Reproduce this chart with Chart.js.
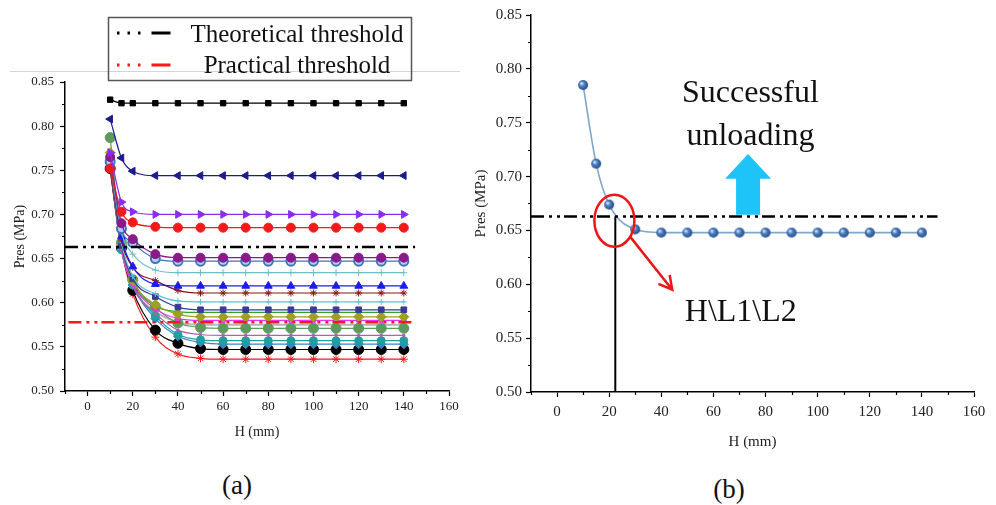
<!DOCTYPE html>
<html lang="en">
<head>
<meta charset="UTF-8">
<title>Pres vs H</title>
<script src="https://cdn.jsdelivr.net/npm/chart.js@4.4.1/dist/chart.umd.min.js"></script>
<style>
    body{margin:0;background:#fff;width:996px;height:505px;position:relative;overflow:hidden;font-family:"Liberation Serif",serif}
    #boxA{position:absolute;left:0;top:0;width:470px;height:460px}
    #boxB{position:absolute;left:462px;top:0;width:534px;height:460px}
    #rule{position:absolute;left:10px;top:71px;width:450px;height:1px;background:#d4d4d4}
    .cap{position:absolute;font-size:27px;color:#111;transform:translate(-50%,-50%)}
</style>
</head>
<body>
<div id="rule"></div>
<div id="boxA"><canvas id="chartA"></canvas></div>
<div id="boxB"><canvas id="chartB"></canvas></div>
<div class="cap" style="left:237px;top:485px">(a)</div>
<div class="cap" style="left:729px;top:489px">(b)</div>
<script>
// ---- values ----
var hA = [10, 15, 20, 30, 40, 50, 60, 70, 80, 90, 100, 110, 120, 130, 140];
var presA01 = [0.830, 0.826, 0.826, 0.826, 0.826, 0.826, 0.826, 0.826, 0.826, 0.826, 0.826, 0.826, 0.826, 0.826, 0.826];
var presA02 = [0.808, 0.764, 0.749, 0.744, 0.744, 0.744, 0.744, 0.744, 0.744, 0.744, 0.744, 0.744, 0.744, 0.744, 0.744];
var presA03 = [0.770, 0.714, 0.703, 0.700, 0.700, 0.700, 0.700, 0.700, 0.700, 0.700, 0.700, 0.700, 0.700, 0.700, 0.700];
var presA04 = [0.752, 0.703, 0.691, 0.686, 0.685, 0.685, 0.685, 0.685, 0.685, 0.685, 0.685, 0.685, 0.685, 0.685, 0.685];
var presA05 = [0.765, 0.690, 0.672, 0.655, 0.651, 0.651, 0.651, 0.651, 0.651, 0.651, 0.651, 0.651, 0.651, 0.651, 0.651];
var presA06 = [0.760, 0.684, 0.668, 0.650, 0.647, 0.647, 0.647, 0.647, 0.647, 0.647, 0.647, 0.647, 0.647, 0.647, 0.647];
var presA07 = [0.758, 0.680, 0.655, 0.637, 0.634, 0.634, 0.634, 0.634, 0.634, 0.634, 0.634, 0.634, 0.634, 0.634, 0.634];
var presA08 = [0.762, 0.675, 0.641, 0.621, 0.619, 0.619, 0.619, 0.619, 0.619, 0.619, 0.619, 0.619, 0.619, 0.619, 0.619];
var presA09 = [0.755, 0.671, 0.640, 0.625, 0.614, 0.611, 0.611, 0.611, 0.611, 0.611, 0.611, 0.611, 0.611, 0.611, 0.611];
var presA10 = [0.760, 0.668, 0.630, 0.610, 0.602, 0.601, 0.601, 0.601, 0.601, 0.601, 0.601, 0.601, 0.601, 0.601, 0.601];
var presA11 = [0.758, 0.665, 0.627, 0.607, 0.595, 0.592, 0.592, 0.592, 0.592, 0.592, 0.592, 0.592, 0.592, 0.592, 0.592];
var presA12 = [0.770, 0.666, 0.625, 0.598, 0.587, 0.584, 0.584, 0.584, 0.584, 0.584, 0.584, 0.584, 0.584, 0.584, 0.584];
var presA13 = [0.765, 0.662, 0.622, 0.593, 0.582, 0.580, 0.580, 0.580, 0.580, 0.580, 0.580, 0.580, 0.580, 0.580, 0.580];
var presA14 = [0.787, 0.668, 0.626, 0.595, 0.577, 0.572, 0.571, 0.571, 0.571, 0.571, 0.571, 0.571, 0.571, 0.571, 0.571];
var presA15 = [0.760, 0.661, 0.618, 0.588, 0.569, 0.564, 0.563, 0.563, 0.563, 0.563, 0.563, 0.563, 0.563, 0.563, 0.563];
var presA16 = [0.755, 0.660, 0.620, 0.585, 0.564, 0.558, 0.557, 0.557, 0.557, 0.557, 0.557, 0.557, 0.557, 0.557, 0.557];
var presA17 = [0.758, 0.660, 0.620, 0.582, 0.562, 0.555, 0.553, 0.553, 0.553, 0.553, 0.553, 0.553, 0.553, 0.553, 0.553];
var presA18 = [0.752, 0.662, 0.614, 0.569, 0.554, 0.548, 0.547, 0.547, 0.547, 0.547, 0.547, 0.547, 0.547, 0.547, 0.547];
var presA19 = [0.750, 0.660, 0.610, 0.561, 0.542, 0.537, 0.536, 0.536, 0.536, 0.536, 0.536, 0.536, 0.536, 0.536, 0.536];
var presA20 = [0.762, 0.664, 0.623, 0.596, 0.590, 0.589, 0.589, 0.589, 0.589, 0.589, 0.589, 0.589, 0.589, 0.589, 0.589];
var presA21 = [0.756, 0.663, 0.619, 0.590, 0.578, 0.575, 0.575, 0.575, 0.575, 0.575, 0.575, 0.575, 0.575, 0.575, 0.575];

var hB = [10, 15, 20, 30, 40, 50, 60, 70, 80, 90, 100, 110, 120, 130, 140];
var presB = [0.785, 0.712, 0.674, 0.651, 0.648, 0.648, 0.648, 0.648, 0.648, 0.648, 0.648, 0.648, 0.648, 0.648, 0.648];

var theoThreshold = 0.663;
var pracThreshold = 0.578;
var theoSpanA = [-10, 145];
var pracSpanA = [-8.5, 145];
var theoSpanB = [-10, 146];
var hCross = 22.35;

var yTickLabels = ['0.50', '0.55', '0.60', '0.65', '0.70', '0.75', '0.80', '0.85'];
var xTickLabels = ['0', '20', '40', '60', '80', '100', '120', '140', '160'];

// annotations of panel (b), in data units
var circleMark = {x: 22.0, y: 0.659};
var redArrow = {x0: 28.1, y0: 0.644, x1: 44.2, y1: 0.595};
var blueArrow = {x: 73.3, tip: 0.721, neck: 0.698, base: 0.6645};
var notesB = [
    {text: 'Successful', x: 74.2, y: 0.7696},
    {text: 'unloading', x: 74.2, y: 0.7294},
    {text: 'H\\L1\\L2', x: 70.5, y: 0.5655}
];

function pts(xs, ys) {
    var out = [];
    for (var i = 0; i < xs.length; i++) out.push({x: xs[i], y: ys[i]});
    return out;
}
function flat(span, v) {
    return [{x: span[0], y: v}, {x: span[1], y: v}];
}

var serif = '"Liberation Serif", "Times New Roman", serif';
var DASH = [13, 5, 3, 5, 3, 4];

function curve(ys, color, style, r, extra) {
    var d = {
        data: pts(hA, ys),
        borderColor: color,
        backgroundColor: color,
        borderWidth: 1.2,
        pointStyle: style,
        pointRadius: r,
        pointBorderWidth: 1,
        pointBorderColor: color,
        cubicInterpolationMode: 'monotone',
        order: 1
    };
    for (var k in extra) d[k] = extra[k];
    return d;
}

function yLabel(v) {
    var s = (Math.round(v * 1000) / 1000).toFixed(2);
    return yTickLabels.indexOf(s) >= 0 && Math.abs(v * 20 - Math.round(v * 20)) < 1e-6 ? s : '';
}
function xLabel(v) {
    var s = String(Math.round(v));
    return xTickLabels.indexOf(s) >= 0 ? s : '';
}
function majorColor(lab) {
    return function (c) {
        return c.tick && lab(c.tick.value) !== '' ? '#000' : 'rgba(0,0,0,0)';
    };
}

function axes(o) {
    return {
        x: {
            type: 'linear', min: -10, max: 160,
            border: {color: '#000', width: 1.5},
            grid: {drawOnChartArea: false, tickLength: 5, tickColor: majorColor(xLabel), tickWidth: 1.2},
            ticks: {stepSize: 10, autoSkip: false, maxRotation: 0, padding: o.xPad, color: '#222',
                font: {family: serif, size: o.tickSize}, callback: xLabel},
            title: {display: true, text: 'H (mm)', color: '#222', font: {family: serif, size: o.titleSize},
                padding: {top: 0, bottom: o.xTitlePad}},
            afterFit: function (s) { s.height = o.xH; }
        },
        y: {
            type: 'linear', min: 0.5, max: 0.85,
            border: {color: '#000', width: 1.5},
            grid: {drawOnChartArea: false, tickLength: o.yTick, tickColor: majorColor(yLabel), tickWidth: 1.2},
            ticks: {stepSize: 0.025, autoSkip: false, padding: o.yPad, color: '#222',
                font: {family: serif, size: o.tickSize}, callback: yLabel},
            title: {display: true, text: 'Pres (MPa)', color: '#222', font: {family: serif, size: o.titleSize},
                padding: {top: o.yTitlePad, bottom: 0}},
            afterFit: function (s) { s.width = o.yW; }
        }
    };
}

// short minor ticks, Origin style
var minorTicks = {
    id: 'minorTicks',
    afterDraw: function (chart) {
        var ctx = chart.ctx, sx = chart.scales.x, sy = chart.scales.y, area = chart.chartArea;
        ctx.save();
        ctx.strokeStyle = '#000';
        ctx.lineWidth = 1.2;
        ctx.beginPath();
        sx.ticks.forEach(function (t) {
            if (xLabel(t.value) !== '') return;
            var p = Math.round(sx.getPixelForValue(t.value)) + 0.5;
            ctx.moveTo(p, area.bottom);
            ctx.lineTo(p, area.bottom + 3);
        });
        sy.ticks.forEach(function (t) {
            if (yLabel(t.value) !== '') return;
            var p = Math.round(sy.getPixelForValue(t.value)) + 0.5;
            ctx.moveTo(area.left, p);
            ctx.lineTo(area.left - 3, p);
        });
        ctx.stroke();
        ctx.restore();
    }
};

// legend box of panel (a)
var legendBoxA = {
    id: 'legendBoxA',
    afterDraw: function (chart) {
        var ctx = chart.ctx;
        ctx.save();
        ctx.strokeStyle = '#555';
        ctx.lineWidth = 1.5;
        ctx.setLineDash([]);
        ctx.strokeRect(108.5, 17.5, 303, 63);
        var items = chart.data.datasets.filter(function (d) { return d.isThreshold; });
        items.forEach(function (d, i) {
            var y = 33 + i * 32;
            ctx.strokeStyle = d.borderColor;
            ctx.lineWidth = 3;
            ctx.setLineDash([2.5, 8, 2.5, 8, 2.5, 11, 19]);
            ctx.beginPath();
            ctx.moveTo(117, y);
            ctx.lineTo(171, y);
            ctx.stroke();
            ctx.setLineDash([]);
            ctx.fillStyle = '#111';
            ctx.font = '25px ' + serif;
            ctx.textAlign = 'center';
            ctx.textBaseline = 'alphabetic';
            ctx.fillText(d.label, 297, 42 + i * 31);
        });
        ctx.restore();
    }
};

var annotB = {
    id: 'annotB',
    beforeDatasetsDraw: function (chart) {
        var ctx = chart.ctx, sx = chart.scales.x, sy = chart.scales.y;
        var cx = sx.getPixelForValue(blueArrow.x);
        var tip = sy.getPixelForValue(blueArrow.tip);
        var neck = sy.getPixelForValue(blueArrow.neck);
        var base = sy.getPixelForValue(blueArrow.base);
        ctx.save();
        ctx.fillStyle = '#1ec4f7';
        ctx.beginPath();
        ctx.moveTo(cx, tip);
        ctx.lineTo(cx + 23, neck);
        ctx.lineTo(cx + 12, neck);
        ctx.lineTo(cx + 12, base);
        ctx.lineTo(cx - 12, base);
        ctx.lineTo(cx - 12, neck);
        ctx.lineTo(cx - 23, neck);
        ctx.closePath();
        ctx.fill();
        ctx.restore();
    },
    afterDatasetsDraw: function (chart) {
        var ctx = chart.ctx, sx = chart.scales.x, sy = chart.scales.y;
        ctx.save();
        ctx.strokeStyle = '#f01515';
        ctx.lineWidth = 2.5;
        ctx.beginPath();
        ctx.ellipse(sx.getPixelForValue(circleMark.x), sy.getPixelForValue(circleMark.y), 20, 26, 0, 0, Math.PI * 2);
        ctx.stroke();
        var x0 = sx.getPixelForValue(redArrow.x0), y0 = sy.getPixelForValue(redArrow.y0);
        var x1 = sx.getPixelForValue(redArrow.x1), y1 = sy.getPixelForValue(redArrow.y1);
        var a = Math.atan2(y1 - y0, x1 - x0);
        ctx.beginPath();
        ctx.moveTo(x0, y0);
        ctx.lineTo(x1, y1);
        ctx.moveTo(x1 - 15 * Math.cos(a - 0.5), y1 - 15 * Math.sin(a - 0.5));
        ctx.lineTo(x1, y1);
        ctx.lineTo(x1 - 15 * Math.cos(a + 0.5), y1 - 15 * Math.sin(a + 0.5));
        ctx.stroke();
        ctx.fillStyle = '#111';
        ctx.font = '32px ' + serif;
        ctx.textAlign = 'center';
        ctx.textBaseline = 'alphabetic';
        notesB.forEach(function (n) {
            ctx.fillText(n.text, sx.getPixelForValue(n.x), sy.getPixelForValue(n.y));
        });
        ctx.restore();
    }
};

function sphere(r) {
    var c = document.createElement('canvas');
    c.width = c.height = 2 * r + 2;
    var g = c.getContext('2d');
    var grad = g.createRadialGradient(r + 1 - r * 0.35, r + 1 - r * 0.35, r * 0.1, r + 1, r + 1, r + 1);
    grad.addColorStop(0, '#d5e4f7');
    grad.addColorStop(0.35, '#4c80c2');
    grad.addColorStop(1, '#1c3d76');
    g.fillStyle = grad;
    g.beginPath();
    g.arc(r + 1, r + 1, r, 0, Math.PI * 2);
    g.fill();
    return c;
}

Chart.defaults.animation = false;
Chart.defaults.events = [];

var datasetsA = [
    {label: 'Theoretical threshold', isThreshold: true, data: flat(theoSpanA, theoThreshold), borderColor: '#000',
        borderWidth: 2.5, borderDash: DASH, pointRadius: 0, order: 0},
    {label: 'Practical threshold', isThreshold: true, data: flat(pracSpanA, pracThreshold), borderColor: '#f21a1a',
        borderWidth: 2.5, borderDash: DASH, pointRadius: 0, order: 0},
    curve(presA01, '#000000', 'rect', 3.8),
    curve(presA02, '#1c1c8a', 'triangle', 4.5, {pointRotation: -90}),
    curve(presA03, '#8a2cf0', 'triangle', 4.5, {pointRotation: 90}),
    curve(presA04, '#f51a1a', 'circle', 4.5),
    curve(presA05, '#8a1a8a', 'circle', 4.5),
    curve(presA06, '#3c74bc', 'circle', 4.5, {pointBackgroundColor: '#b9cde9', pointBorderWidth: 2}),
    curve(presA07, '#6cc0c4', 'cross', 3.5),
    curve(presA08, '#1a1af5', 'triangle', 4.5),
    curve(presA09, '#8a1414', 'star', 3.5),
    curve(presA10, '#5cc6d0', 'cross', 3),
    curve(presA11, '#3a3a98', 'rect', 4),
    curve(presA12, '#9aa21e', 'rectRot', 5),
    curve(presA13, '#f02cf0', 'circle', 2.5),
    curve(presA14, '#5e9a5e', 'circle', 5),
    curve(presA15, '#b060b0', 'rect', 1.5),
    curve(presA16, '#1f9f9f', 'circle', 4),
    curve(presA17, '#3588c6', 'rectRot', 4.5),
    curve(presA18, '#000000', 'circle', 5),
    curve(presA19, '#f51a1a', 'star', 4),
    curve(presA20, '#2ea62e', 'circle', 0),
    curve(presA21, '#b4b4b4', 'circle', 0, {borderWidth: 2})
];

new Chart(document.getElementById('chartA'), {
    type: 'line',
    data: {datasets: datasetsA},
    options: {
        responsive: true,
        maintainAspectRatio: false,
        layout: {padding: {top: 82, right: 21, left: 0, bottom: 0}},
        plugins: {legend: {display: false}, tooltip: {enabled: false}},
        scales: axes({tickSize: 13, titleSize: 14, xPad: 3, yPad: 6, yTick: 5, xH: 69, yW: 65,
            xTitlePad: 19.6, yTitlePad: 11.6})
    },
    plugins: [legendBoxA, minorTicks]
});

new Chart(document.getElementById('chartB'), {
    type: 'line',
    data: {
        datasets: [
            {label: 'Theoretical threshold', data: flat(theoSpanB, theoThreshold), borderColor: '#000',
                borderWidth: 2.5, borderDash: DASH, pointRadius: 0, order: 0},
            {label: 'H', data: [{x: hCross, y: 0.5}, {x: hCross, y: theoThreshold}], borderColor: '#000',
                borderWidth: 2, pointRadius: 0, order: 0},
            {label: 'Pres', data: pts(hB, presB), borderColor: '#7fa6cc', borderWidth: 1.6,
                pointStyle: sphere(5), pointRadius: 5, cubicInterpolationMode: 'monotone', order: 1}
        ]
    },
    options: {
        responsive: true,
        maintainAspectRatio: false,
        layout: {padding: {top: 15, right: 22, left: 0, bottom: 0}},
        plugins: {legend: {display: false}, tooltip: {enabled: false}},
        scales: axes({tickSize: 15, titleSize: 15, xPad: 6, yPad: 4, yTick: 5, xH: 68, yW: 69,
            xTitlePad: 9, yTitlePad: 10})
    },
    plugins: [annotB, minorTicks]
});
</script>
</body>
</html>
